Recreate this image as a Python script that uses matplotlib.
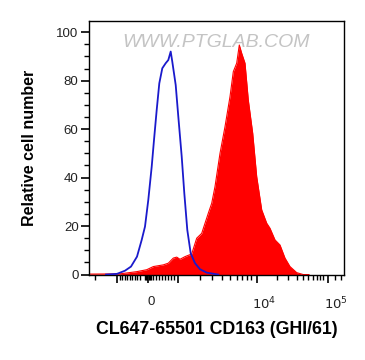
import matplotlib
matplotlib.use("Agg")
import matplotlib.pyplot as plt
import numpy as np
from matplotlib.transforms import ScaledTranslation

plt.rcParams['font.family'] = ['Liberation Sans', 'DejaVu Sans']

# x positions are in display channel units (0 = left edge of the plot, 255 = right edge)
blue_x = [17, 28, 36, 42, 48, 52.7, 56, 59.3, 62.7, 65, 67.7, 70.3, 73.3, 76.7, 79.3,
          81.7, 83.3, 86.7, 89.3, 92.7, 95.3, 98.3, 101.7, 106, 111, 117.7, 129.3]
blue_y = [0, 0.3, 1.6, 3.3, 7.4, 14.3, 19.8, 30.8, 44.5, 55.5, 67.9, 78.9, 85.1, 87.2, 88.5,
          92.0, 87.8, 78.2, 65.2, 48.7, 33.6, 18.4, 8.8, 4.7, 2.2, 0.8, 0]

red_x = [1, 31, 47.7, 57.7, 64.3, 74.3, 79.3, 84.3, 87.7, 91, 96, 102.7, 107.7, 112.7,
         119.3, 122.7, 126, 131, 136, 141, 144.3, 147.7, 150.3, 152.7, 156, 159.3, 163.7,
         167.7, 172.7, 177.7, 181, 186, 191, 196, 201, 207.7, 214.3, 220]
red_y = [0.2, 0.3, 1.2, 2.0, 3.3, 4.0, 4.7, 6.8, 7.2, 6.3, 7.4, 8.5, 15, 17,
         25.3, 29.4, 36.3, 50, 61, 73.4, 83.7, 87.2, 94.7, 91.3, 87.2, 72, 58.3,
         40.4, 26.7, 21.2, 19.1, 14.3, 12.2, 6.8, 3.3, 0.8, 0, 0]

xmajor_pos = [28, 59, 89, 167.5, 239]
xmajor_lab = ['', '0', '', '$10^4$', '$10^5$']
xlab_shift = [0, 3.5, 0, 8, 8]  # px offsets of labels
xminor_pos = [6, 30.7, 33.2, 35.7, 38.2, 40.7, 43.2, 45.7, 48.2, 50.7,
              56, 57, 58, 60, 61, 62,
              64, 67, 70, 73, 76, 79, 82, 85,
              111, 123, 133, 141, 148, 153, 158, 162,
              188, 199, 208, 214, 219, 224, 228, 231, 234, 246, 252]
yticks = [0, 20, 40, 60, 80, 100]

fig = plt.figure(figsize=(3.65, 3.6), dpi=100)
ax = fig.add_axes([89/365, 1-275.3/360, 255/365, 254.3/360])

ax.fill_between(red_x, red_y, 0, color='#ff0000', lw=0, zorder=2)
ax.plot(red_x, red_y, color='#ff0000', lw=0.8, zorder=2)
ax.plot(blue_x, blue_y, color='#1a1acc', lw=1.3, zorder=3)

ax.set_xlim(0, 255)
ax.set_ylim(-0.3, 104.6)

ax.set_xticks(xmajor_pos)
ax.set_xticklabels(xmajor_lab)
ax.set_xticks(xminor_pos, minor=True)
ax.set_yticks(yticks)
ax.set_yticks(np.arange(0, 105, 5), minor=True)

ax.tick_params(axis='both', which='major', direction='out', length=6, width=1.2,
               labelsize=9.5, colors='black', labelcolor='#222222')
ax.tick_params(axis='both', which='minor', direction='out', length=3.5, width=1.0)
ax.tick_params(axis='x', which='major', pad=9)
ax.tick_params(axis='y', which='major', pad=1.5)

for lab, dx in zip(ax.get_xticklabels(), xlab_shift):
    lab.set_transform(lab.get_transform() + ScaledTranslation(dx/100, 0, fig.dpi_scale_trans))

for s in ax.spines.values():
    s.set_linewidth(1.0)

ax.set_xlabel('CL647-65501 CD163 (GHI/61)', fontsize=12.8, fontweight='bold', labelpad=6)
ax.set_ylabel('Relative cell number', fontsize=11.5, fontweight='bold', labelpad=14)

ax.text(0.5, 0.915, 'WWW.PTGLAB.COM', transform=ax.transAxes, ha='center', va='center',
        fontsize=14, color='#c4c4c4', fontstyle='italic', zorder=1)

fig.savefig('out.png', dpi=100)
